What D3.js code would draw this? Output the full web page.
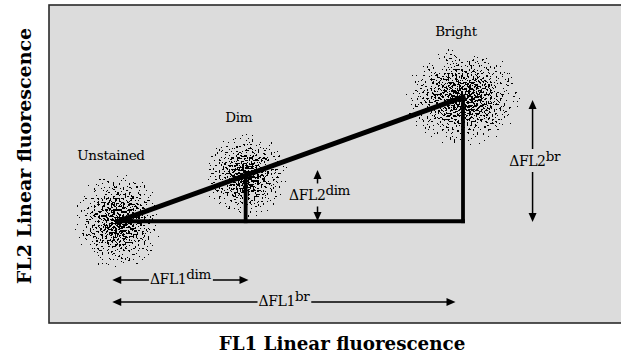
<!DOCTYPE html>
<html>
<head>
<meta charset="utf-8">
<script src="https://cdn.jsdelivr.net/npm/d3@7"></script>
<style>
  html, body { margin: 0; padding: 0; background: #ffffff; }
  svg { display: block; }
  .lbl { font-family: "DejaVu Serif", serif; }
  .ttl { font-family: "DejaVu Serif", serif; font-weight: bold; }
</style>
</head>
<body>
<svg id="chart" width="621" height="356"></svg>
<script>
// ---- data, axis units are arbitrary linear fluorescence 0–100 ----
const axisTitleX = "FL1 Linear fluorescence";
const axisTitleY = "FL2 Linear fluorescence";

const populations   = ["Unstained", "Dim", "Bright"];
const popFL1        = [12.0, 34.2, 72.0];   // population mean FL1
const popFL2        = [32.0, 46.4, 71.0];   // population mean FL2
const popSpreadFL1  = [8.0, 7.6, 10.6];     // half-width of cloud, FL1 units
const popSpreadFL2  = [16.0, 13.8, 16.2];   // half-height of cloud, FL2 units

// difference measurements (arrows)
const deltaNames   = ["ΔFL1", "ΔFL1", "ΔFL2", "ΔFL2"];
const deltaSup     = ["dim", "br", "dim", "br"];
const deltaAxis    = ["x", "x", "y", "y"];
const deltaFrom    = [11.0, 11.0, 32.1, 31.8];   // start along measured axis
const deltaTo      = [34.7, 70.7, 48.1, 70.1];   // end along measured axis
const deltaAt      = [13.5, 6.6, 46.7, 84.1];    // position on the other axis

// ---- layout ----
const svg = d3.select("#chart");
const plot = { left: 49, top: 5, right: 624, bottom: 323 };

const x = d3.scaleLinear().domain([0, 100]).range([plot.left, plot.right]);
const y = d3.scaleLinear().domain([0, 100]).range([plot.bottom, plot.top]);

const defs = svg.append("defs");

// radial density gradient for each cloud
const grad = defs.append("radialGradient").attr("id", "density");
grad.append("stop").attr("offset", "0%").attr("stop-color", "#000").attr("stop-opacity", 1);
grad.append("stop").attr("offset", "30%").attr("stop-color", "#000").attr("stop-opacity", 0.75);
grad.append("stop").attr("offset", "65%").attr("stop-color", "#000").attr("stop-opacity", 0.4);
grad.append("stop").attr("offset", "100%").attr("stop-color", "#000").attr("stop-opacity", 0);

// speckle texture filter: thresholded noise modulated by density
const f = defs.append("filter").attr("id", "speckle")
  .attr("x", "-5%").attr("y", "-5%").attr("width", "110%").attr("height", "110%")
  .attr("color-interpolation-filters", "sRGB");
f.append("feTurbulence").attr("type", "fractalNoise").attr("baseFrequency", 0.52)
  .attr("numOctaves", 1).attr("seed", 7).attr("result", "noise");
f.append("feColorMatrix").attr("in", "noise").attr("type", "matrix")
  .attr("values", "0 0 0 0 0  0 0 0 0 0  0 0 0 0 0  1 0 0 0 0").attr("result", "na");
f.append("feComposite").attr("in", "na").attr("in2", "SourceAlpha").attr("operator", "arithmetic")
  .attr("k1", 0).attr("k2", 4).attr("k3", 1.12).attr("k4", -2.38).attr("result", "mix");
const ct = f.append("feComponentTransfer").attr("in", "mix").attr("result", "bin");
ct.append("feFuncA").attr("type", "discrete").attr("tableValues", "0 1");
const mk = f.append("feComponentTransfer").attr("in", "SourceAlpha").attr("result", "mask");
mk.append("feFuncA").attr("type", "discrete")
  .attr("tableValues", "0 1 1 1 1 1 1 1 1 1 1 1 1 1 1 1 1 1 1 1");
f.append("feComposite").attr("in", "bin").attr("in2", "mask").attr("operator", "in");

// plot background
svg.append("rect")
  .attr("x", plot.left).attr("y", plot.top)
  .attr("width", plot.right - plot.left).attr("height", plot.bottom - plot.top)
  .attr("fill", "#dcdcdc").attr("stroke", "#2a2a2a").attr("stroke-width", 1.6);

// clouds
const pops = populations.map((name, i) => ({
  name, fl1: popFL1[i], fl2: popFL2[i], sx: popSpreadFL1[i], sy: popSpreadFL2[i]
}));

svg.append("g").selectAll("ellipse").data(pops).join("ellipse")
  .attr("cx", d => x(d.fl1))
  .attr("cy", d => y(d.fl2))
  .attr("rx", d => x(d.sx) - x(0))
  .attr("ry", d => y(0) - y(d.sy))
  .attr("fill", "url(#density)")
  .attr("filter", "url(#speckle)");

// triangle: hypotenuse, base, verticals
const u = pops[0], dm = pops[1], br = pops[2];
const lines = svg.append("g").attr("stroke", "#000").attr("stroke-linecap", "square");
lines.append("line")
  .attr("x1", x(u.fl1)).attr("y1", y(u.fl2)).attr("x2", x(br.fl1)).attr("y2", y(br.fl2))
  .attr("stroke-width", 5);
lines.append("line")
  .attr("x1", x(u.fl1)).attr("y1", y(u.fl2)).attr("x2", x(br.fl1)).attr("y2", y(u.fl2))
  .attr("stroke-width", 3.8);
[dm, br].forEach(p => {
  lines.append("line")
    .attr("x1", x(p.fl1)).attr("y1", y(p.fl2)).attr("x2", x(p.fl1)).attr("y2", y(u.fl2))
    .attr("stroke-width", 3.8);
});

// population labels
svg.append("g").selectAll("text").data(pops).join("text")
  .attr("class", "lbl")
  .attr("x", d => x(d.fl1) - 7)
  .attr("y", d => y(d.fl2 + d.sy) - 10)
  .attr("text-anchor", "middle")
  .attr("font-size", 13.5)
  .attr("letter-spacing", -0.3)
  .attr("fill", "#000")
  .text(d => d.name);

// arrows
const ag = svg.append("g");
function head(tx, ty, dx, dy) {
  const L = 9, W = 4;
  const bx = tx - dx * L, by = ty - dy * L;
  const px = -dy, py = dx;
  ag.append("path")
    .attr("d", `M${tx},${ty}L${bx + px * W},${by + py * W}L${bx - px * W},${by - py * W}Z`)
    .attr("fill", "#000");
}
function seg(x1, y1, x2, y2) {
  ag.append("line").attr("x1", x1).attr("y1", y1).attr("x2", x2).attr("y2", y2)
    .attr("stroke", "#000").attr("stroke-width", 1.5);
}

deltaNames.forEach((nm, i) => {
  const t = ag.append("text")
    .attr("class", "lbl")
    .attr("font-size", 14)
    .attr("letter-spacing", -0.4)
    .attr("fill", "#000");
  t.append("tspan").text(nm);
  t.append("tspan").attr("dy", -5).attr("font-size", 13.5).text(deltaSup[i]);

  if (deltaAxis[i] === "x") {
    const x1 = x(deltaFrom[i]), x2 = x(deltaTo[i]), yy = y(deltaAt[i]);
    const w = t.node().getComputedTextLength();
    const cx = (x1 + x2) / 2;
    t.attr("x", cx - w / 2).attr("y", yy + 4);
    seg(x1 + 4, yy, cx - w / 2 - 1, yy);
    seg(cx + w / 2 + 2, yy, x2 - 4, yy);
    head(x1, yy, -1, 0);
    head(x2, yy, 1, 0);
  } else {
    const y1 = y(deltaTo[i]), y2 = y(deltaFrom[i]), xx = x(deltaAt[i]);
    const w = t.node().getComputedTextLength();
    const cy = (y1 + y2) / 2;
    t.attr("x", xx - w / 2 + 2).attr("y", cy + 5);
    const gapTop = cy - 12, gapBot = cy + 11;
    seg(xx, y1 + 4, xx, gapTop);
    seg(xx, gapBot, xx, y2 - 4);
    head(xx, y1, 0, -1);
    head(xx, y2, 0, 1);
  }
});

// axis titles
svg.append("text")
  .attr("class", "ttl")
  .attr("x", (plot.left + 621) / 2 + 7)
  .attr("y", 350)
  .attr("text-anchor", "middle")
  .attr("font-size", 18.3)
  .attr("fill", "#000")
  .text(axisTitleX);

svg.append("text")
  .attr("class", "ttl")
  .attr("transform", `translate(31, 156) rotate(-90)`)
  .attr("text-anchor", "middle")
  .attr("font-size", 19)
  .attr("fill", "#000")
  .text(axisTitleY);
</script>
</body>
</html>
